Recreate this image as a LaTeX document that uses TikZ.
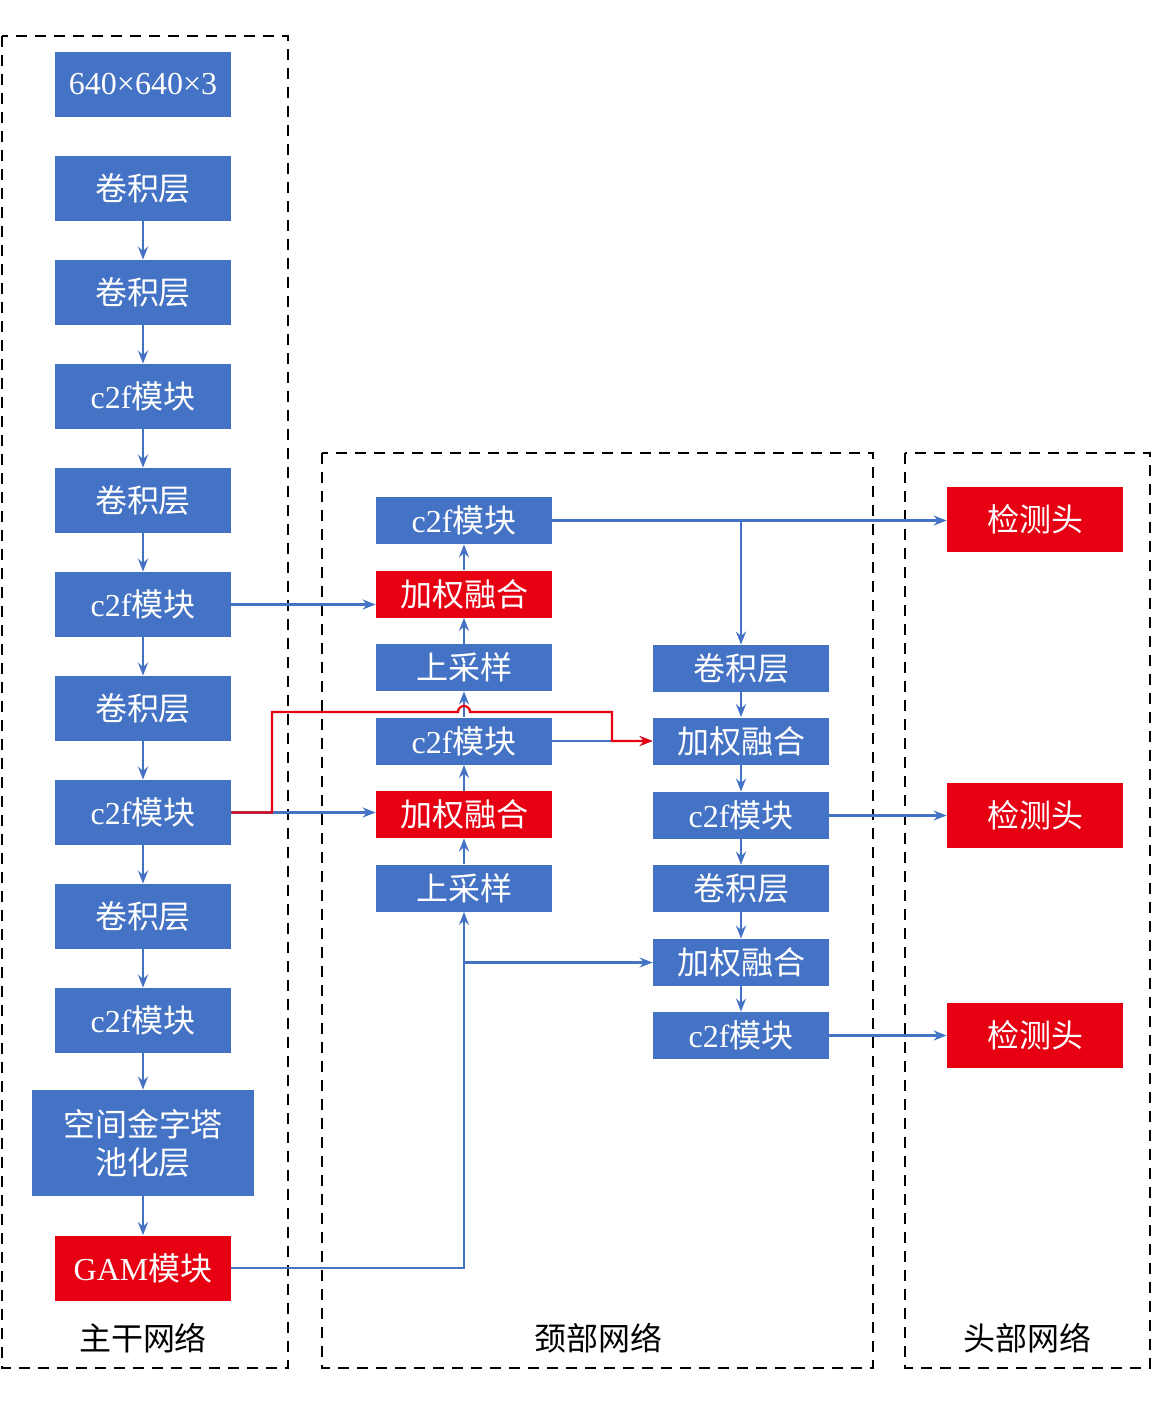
\documentclass[tikz,border=0pt]{standalone}
\usepackage{fontspec}
\setmainfont{Liberation Serif}
\newfontfamily\cjk{Noto Sans CJK SC}
\newcommand{\zhtext}[1]{{\cjk #1}}
\usetikzlibrary{arrows.meta}
\definecolor{blockblue}{RGB}{68,114,196}
\definecolor{blockred}{RGB}{230,0,18}
\tikzset{
  >={Stealth[length=6.5pt,width=5pt,inset=2.2pt]},
  blk/.style={fill=blockblue,text=white,minimum width=88pt,minimum height=32.5pt,inner sep=0pt,font=\fontsize{16}{19}\selectfont},
  blkred/.style={blk,fill=blockred},
  blkthin/.style={blk,minimum height=23.5pt},
  blkthinred/.style={blkthin,fill=blockred},
  link/.style={draw=blockblue,line width=1.1pt,->},
  redlink/.style={draw=blockred,line width=1.1pt,->},
  frame/.style={draw=black,line width=1.1pt,dash pattern=on 5.5pt off 4pt},
  grouplabel/.style={font=\fontsize{16}{19}\selectfont}
}

\begin{document}
\begin{tikzpicture}[x=0.5pt,y=-0.5pt]
  \useasboundingbox (0,0) rectangle (1152,1405);
  % frames
  \draw (2,36) rectangle (288,1368) [frame];
  \draw (322,453) rectangle (873,1368) [frame];
  \draw (905,453) rectangle (1150,1368) [frame];
  \node[grouplabel] (LBACK) at (143,1338) {\zhtext{主干网络}};
  \node[grouplabel] (LNECK) at (598,1338) {\zhtext{颈部网络}};
  \node[grouplabel] (LHEAD) at (1027,1338) {\zhtext{头部网络}};
  % backbone
  \node[blk] (INP) at (143,84.5) {640×640×3};
  \node[blk] (BC1) at (143,188.5) {\zhtext{卷积层}};
  \node[blk] (BC2) at (143,292.5) {\zhtext{卷积层}};
  \node[blk] (BF1) at (143,396.5) {c2f\zhtext{模块}};
  \node[blk] (BC3) at (143,500.5) {\zhtext{卷积层}};
  \node[blk] (BF2) at (143,604.5) {c2f\zhtext{模块}};
  \node[blk] (BC4) at (143,708.5) {\zhtext{卷积层}};
  \node[blk] (BF3) at (143,812.5) {c2f\zhtext{模块}};
  \node[blk] (BC5) at (143,916.5) {\zhtext{卷积层}};
  \node[blk] (BF4) at (143,1020.5) {c2f\zhtext{模块}};
  \node[blk,minimum width=111pt,minimum height=53pt,align=center] (SPP) at (143,1143) {\zhtext{空间金字塔}\\\zhtext{池化层}};
  \node[blkred] (GAM) at (143,1268) {GAM\zhtext{模块}};
  % neck, upward column
  \node[blkthin] (NF1) at (464,520.5) {c2f\zhtext{模块}};
  \node[blkthinred] (NW1) at (464,594) {\zhtext{加权融合}};
  \node[blkthin] (NU1) at (464,667.5) {\zhtext{上采样}};
  \node[blkthin] (NF2) at (464,741) {c2f\zhtext{模块}};
  \node[blkthinred] (NW2) at (464,814.5) {\zhtext{加权融合}};
  \node[blkthin] (NU2) at (464,888) {\zhtext{上采样}};
  % neck, downward column
  \node[blkthin] (NC1) at (741,668.5) {\zhtext{卷积层}};
  \node[blkthin] (NW3) at (741,741) {\zhtext{加权融合}};
  \node[blkthin] (NF3) at (741,815.5) {c2f\zhtext{模块}};
  \node[blkthin] (NC2) at (741,888.5) {\zhtext{卷积层}};
  \node[blkthin] (NW4) at (741,962.5) {\zhtext{加权融合}};
  \node[blkthin] (NF4) at (741,1035.5) {c2f\zhtext{模块}};
  % head
  \node[blkred] (H1) at (1035,519) {\zhtext{检测头}};
  \node[blkred] (H2) at (1035,815.5) {\zhtext{检测头}};
  \node[blkred] (H3) at (1035,1035.5) {\zhtext{检测头}};
  % backbone links
  \draw (BC1) -- (BC2) [link];
  \draw (BC2) -- (BF1) [link];
  \draw (BF1) -- (BC3) [link];
  \draw (BC3) -- (BF2) [link];
  \draw (BF2) -- (BC4) [link];
  \draw (BC4) -- (BF3) [link];
  \draw (BF3) -- (BC5) [link];
  \draw (BC5) -- (BF4) [link];
  \draw (BF4) -- (SPP) [link];
  \draw (SPP) -- (GAM) [link];
  % neck links
  \coordinate (GAMUP) at (GAM.east -| NU2.south);
  \coordinate (GAMBR) at (NW4.west -| NU2.south);
  \draw (GAM.east) -- (GAMUP) -- (NU2.south) [link];
  \draw (GAMBR) -- (NW4.west) [link];
  \draw (NU2) -- (NW2) [link];
  \draw (NW2) -- (NF2) [link];
  \draw (NF2) -- (NU1) [link];
  \draw (NU1) -- (NW1) [link];
  \draw (NW1) -- (NF1) [link];
  \draw (BF2.east) -- (BF2.east -| NW1.west) [link];
  \draw (BF3.east) -- (BF3.east -| NW2.west) [link];
  \draw (NF2.east) -- (NW3.west) [link];
  \coordinate (TOPBR) at (NF1.east -| NC1.north);
  \draw (NF1.east) -- (NF1.east -| H1.west) [link];
  \draw (TOPBR) -- (NC1.north) [link];
  \draw (NC1) -- (NW3) [link];
  \draw (NW3) -- (NF3) [link];
  \draw (NF3) -- (NC2) [link];
  \draw (NC2) -- (NW4) [link];
  \draw (NW4) -- (NF4) [link];
  \draw (NF3.east) -- (H2.west) [link];
  \draw (NF4.east) -- (H3.west) [link];
  % skip link, red
  \coordinate (RA) at (272,812.5);
  \coordinate (RB) at (272,712);
  \coordinate (RC) at (612,712);
  \draw (BF3.east) -- (RA) -- (RB) -- (458,712) arc[start angle=180,end angle=0,radius=3pt] -- (RC) -- (RC |- NW3.west) -- (NW3.west) [redlink];
\end{tikzpicture}
\end{document}
